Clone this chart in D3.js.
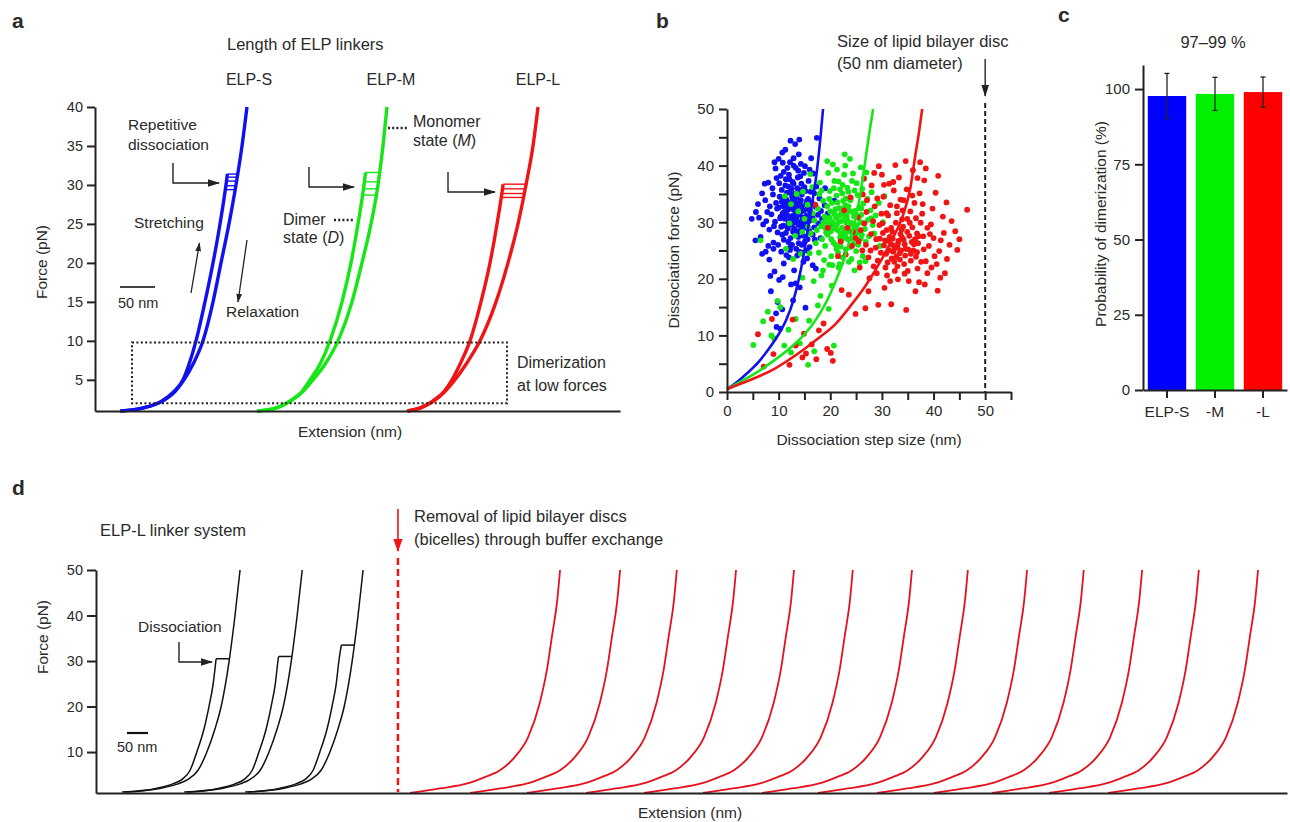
<!DOCTYPE html>
<html><head><meta charset="utf-8">
<script src="https://cdn.jsdelivr.net/npm/d3@7"></script>
<style>body{margin:0;background:#fff}svg text{font-family:Arial,"Liberation Sans",sans-serif;fill:#2a2a2a}</style>
</head><body><svg id="c" width="1290" height="822"></svg>
<script>
// ---------- Panel a data ----------
const aLinkers = ["ELP-S","ELP-M","ELP-L"];
const aYTicks = [5,10,15,20,25,30,35,40];
const aForceDimer = [1,1.4,2.3,3.5,5,7,10,15,20,25,30,32];
const aForceMono  = [1,1.4,2.3,3.5,5,7,10,15,20,25,30,35,40];
const aDimerExtS = [35.7,68.6,95.7,112.9,125.7,134.3,144.3,157.1,168.6,178.6,187.1,190];
const aDimerExtM = [231.4,258.6,278.6,295.7,307.1,321.4,335.7,352.9,365.7,375.7,384.3,387.1];
const aDimerExtL = [445.7,464.3,482.9,498.6,510,521.4,535.7,551.4,564.3,574.3,582.9,585.7];
const aMonoExtS = [37.1,70,97.1,114.3,127.1,140,154.3,168.6,180,191.4,201.4,210,217.1];
const aMonoExtM = [232.9,260,280,297.1,311.4,328.6,347.1,367.1,381.4,394.3,404.3,411.4,417.1];
const aMonoExtL = [447.1,465.7,484.3,500,514.3,530,550,572.9,590,604.3,615.7,625.7,632.9];
const aStepsS = [29.4,29.9,30.5,31.0,31.4];
const aStepsM = [28.7,29.5,30.4,31.6];
const aStepsL = [28.4,28.9,29.5,30.1];

// ---------- Panel b data ----------
const bXTicks = [0,5,10,15,20,25,30,35,40,45,50,55];
const bYTicks = [0,5,10,15,20,25,30,35,40,45,50];
const bFitS_x = [0,2,4,6,8,10,11.5,12.8,13.8,14.8,15.7,16.6,17.4,18.1,18.6];
const bFitS_f = [0.5,1.8,3.4,5.2,7.5,10.2,12.8,16,19.5,24,29,34,39,45,50];
const bFitM_x = [0,3,6,9,12,15,17,19,21,22.5,23.8,25,26,26.8,27.6,28.3];
const bFitM_f = [0.5,2,3.6,5.5,7.6,10.2,12.5,15.5,19.5,23,27,31,36,41,46,50];
const bFitL_x = [0,3,6,9,12,15,18,21,24,27,30,32,34,35.5,36.5,37.2,37.8];
const bFitL_f = [0.5,1.6,2.7,4,5.7,7.6,9.7,12,15.3,19,23.5,27,31,36,42,46,50];
const bDisc = 50;
const bPtsS = [[13.2,31.5],[12.1,30.2],[14.5,32.8],[11.3,33.1],[15.2,29.7],[13.8,28.4],[12.6,34.6],[10.4,31.0],[16.1,31.9],[14.0,35.7],
[11.8,28.9],[13.5,30.9],[15.7,34.1],[12.9,36.8],[10.9,29.4],[14.8,27.6],[9.7,32.4],[16.8,30.4],[13.1,33.7],[11.6,35.2],
[15.4,31.1],[12.3,27.2],[14.2,29.8],[10.2,34.5],[17.2,32.7],[13.7,37.9],[11.1,31.8],[15.9,28.5],[12.8,32.3],[14.6,30.5],
[9.3,30.1],[16.4,33.5],[12.0,38.4],[13.9,26.3],[11.5,32.9],[15.0,36.2],[10.7,27.8],[14.3,33.9],[12.4,29.6],[16.9,29.1],
[8.6,31.4],[13.3,39.6],[11.9,26.5],[17.6,31.3],[14.9,38.7],[10.1,36.9],[12.7,31.1],[15.6,27.0],[13.6,32.1],[11.2,30.6],
[9.8,28.2],[16.2,35.4],[12.2,40.6],[14.1,31.4],[10.6,33.6],[15.3,33.2],[13.0,28.9],[11.4,37.6],[17.9,34.2],[14.7,29.2],
[8.9,34.9],[12.5,35.9],[16.6,27.8],[13.4,30.0],[10.3,30.7],[15.8,37.3],[11.7,29.1],[14.4,36.8],[12.9,41.3],[9.6,37.8],
[7.8,31.8],[18.4,30.6],[13.9,42.0],[10.8,40.5],[16.0,25.6],[12.2,25.1],[14.6,24.6],[8.2,28.7],[18.9,33.0],[11.0,38.9],
[15.1,39.9],[9.0,26.4],[17.3,36.3],[13.2,43.8],[10.0,41.2],[19.5,31.5],[12.0,23.8],[15.5,23.6],[7.4,33.9],[16.7,38.6],
[14.0,44.6],[17.4,44.9],[6.2,30.8],[7.0,29.6],[20.2,29.0],[9.4,39.5],[11.3,42.8],[16.3,41.3],[13.6,24.1],[18.1,27.2],
[6.5,27.4],[8.0,37.0],[19.0,36.0],[20.8,33.8],[12.6,26.0],[10.5,24.8],[14.3,40.3],[15.9,30.2],[13.0,35.0],[11.5,34.0],
[12.4,32.6],[13.7,33.0],[14.2,31.9],[12.9,29.9],[11.8,32.2],[13.5,34.3],[14.9,32.0],[12.2,31.0],[15.6,32.5],[10.9,32.8],
[13.1,30.4],[14.5,34.9],[11.4,28.1],[16.5,30.9],[12.7,37.1],[10.5,29.2],[15.2,35.5],[13.8,27.4],[11.9,36.3],[14.0,30.0],
[12.0,33.5],[13.4,31.8],[14.7,30.8],[11.6,31.3],[12.8,28.3],[14.1,33.4],[13.0,32.8],[15.0,30.3],[11.1,34.2],[12.5,30.8],
[13.9,29.5],[10.8,31.6],[14.4,28.6],[12.2,35.3],[13.6,36.0],[15.5,33.8],[11.9,29.8],[10.0,32.6],[14.8,35.9],[12.7,33.9],
[9.5,33.4],[13.3,27.9],[16.0,32.2],[11.3,36.5],[12.1,37.6],[14.2,38.1],[10.6,35.7],[13.8,39.1],[15.4,29.0],[9.1,29.3],
[8.3,32.8],[11.7,39.6],[12.9,40.0],[10.4,38.2],[7.6,30.2],[16.9,35.1],[17.7,29.8],[8.8,36.0],[15.1,26.6],[11.0,26.9],
[5.6,31.8],[4.8,30.6],[6.8,35.1],[9.9,26.0],[13.4,25.3],[17.0,26.9],[18.2,32.0],[14.5,26.0],[10.7,42.3],[12.3,44.4],
[7.3,36.8],[9.2,40.6],[16.0,39.3],[8.0,25.8],[6.0,33.2],[5.5,26.8],[6.8,24.4],[10.8,20.3],[8.2,23.4],[14.0,24.8],
[9.2,21.3],[10.1,19.8],[11.5,24.2],[8.5,17.8],[12.4,19.0],[13.0,21.5],[9.8,15.9],[10.7,14.6],[14.1,18.5],[13.3,19.2],
[10.3,11.2],[9.6,11.5],[15.2,14.9],[11.0,22.7],[12.2,25.5],[8.4,20.5],[14.8,23.0],[16.6,22.4],[17.2,21.8],[9.5,13.9],
[12.8,16.2],[7.5,24.8],[9.0,25.3],[15.5,25.0]];
const bPtsM = [[22.1,30.2],[20.8,31.5],[23.6,29.1],[21.4,28.6],[24.3,31.8],[22.9,33.0],[19.7,29.7],[25.1,29.4],[21.9,27.3],[23.2,31.1],
[20.3,33.4],[24.8,27.9],[22.6,28.1],[18.9,31.0],[26.0,31.3],[21.1,30.8],[23.9,33.9],[19.5,27.8],[25.6,32.6],[22.3,35.1],
[20.6,26.4],[24.0,29.9],[21.7,32.5],[26.7,28.8],[18.2,29.3],[23.4,27.0],[22.8,30.6],[20.0,31.9],[25.3,34.8],[21.2,34.7],
[17.6,32.4],[24.5,26.2],[22.4,36.6],[19.2,28.2],[27.3,30.4],[23.1,28.4],[20.9,29.1],[25.9,27.1],[21.6,37.2],[18.6,33.8],
[24.7,35.6],[22.0,25.7],[26.4,33.3],[19.9,35.5],[23.7,32.0],[16.9,30.3],[27.8,32.1],[21.0,26.0],[24.2,37.3],[20.4,30.0],
[22.5,33.8],[25.5,30.8],[18.4,27.0],[23.0,25.2],[26.9,26.5],[19.4,32.8],[22.7,38.4],[28.2,29.5],[17.9,35.0],[24.9,28.6],
[21.5,24.6],[20.7,36.0],[26.2,35.9],[16.2,28.0],[23.5,35.4],[28.8,31.2],[19.0,25.8],[25.0,24.9],[15.6,33.1],[22.2,31.7],
[29.4,33.4],[17.2,26.3],[24.4,38.6],[18.0,37.0],[27.5,27.5],[20.2,24.0],[22.9,40.0],[15.0,30.6],[26.6,37.7],[21.8,22.6],
[29.0,27.0],[13.8,31.9],[16.5,36.2],[25.7,22.9],[19.6,38.7],[12.4,33.2],[14.7,35.4],[23.8,41.2],[18.8,23.3],[28.0,35.3],
[12.1,29.8],[11.2,34.6],[13.2,27.6],[26.3,24.0],[30.2,30.0],[24.1,23.5],[16.0,24.5],[20.5,40.2],[27.0,38.8],[22.4,23.8],
[21.3,29.6],[23.3,30.3],[22.0,32.4],[24.6,31.0],[20.1,28.4],[23.0,34.2],[21.8,31.2],[25.2,28.2],[19.3,30.6],[22.6,27.2],
[22.3,29.0],[21.6,30.1],[23.8,28.3],[24.6,29.6],[20.5,28.9],[22.9,27.6],[23.5,32.8],[21.0,32.3],[25.8,30.0],[19.9,30.8],
[22.1,26.6],[24.2,27.2],[20.2,27.0],[23.1,29.9],[21.4,33.5],[25.4,26.0],[26.5,29.8],[18.7,30.0],[22.7,31.4],[24.0,34.3],
[19.8,34.1],[21.2,25.3],[26.0,32.4],[17.4,28.6],[23.9,25.6],[20.8,37.3],[25.1,36.9],[18.3,35.6],[27.2,34.1],[16.6,31.6],
[22.0,28.0],[24.8,32.0],[19.0,29.0],[21.9,35.8],[23.3,36.1],[26.1,27.8],[27.9,30.7],[15.7,29.2],[20.4,22.4],[23.6,23.0],
[17.8,24.6],[14.6,28.3],[13.5,35.0],[28.5,28.0],[26.8,23.1],[24.7,21.5],[21.3,39.3],[25.9,39.7],[19.4,40.8],[22.8,42.0],
[16.1,38.5],[29.6,25.8],[18.3,20.6],[14.3,24.4],[30.5,34.6],
[5.1,8.3],[7.0,12.5],[8.6,10.0],[9.8,16.1],[10.3,15.0],[11.9,11.0],[12.4,7.0],[14.1,8.6],[15.7,4.8],[16.9,7.2],
[17.6,15.3],[18.1,17.0],[19.7,14.7],[20.3,18.8],[20.7,8.2],[13.3,12.9],[11.1,8.2],[15.9,12.6],[21.6,22.0],[9.1,9.5],
[14.6,20.2],[18.6,21.5],[16.8,19.6],[12.8,23.5],[7.9,14.2],[19.8,22.5],[6.5,26.8],[11.4,25.3]];
const bPtsL = [[33.1,26.2],[31.5,27.4],[34.6,25.3],[32.2,24.8],[35.3,27.6],[30.4,25.9],[33.8,28.7],[36.1,25.0],[31.9,23.6],[34.2,26.9],
[29.6,27.1],[35.9,29.1],[32.7,29.9],[37.0,26.3],[30.9,28.6],[33.5,23.4],[28.8,25.5],[36.6,23.9],[32.0,26.0],[34.9,30.6],
[30.1,29.8],[38.0,27.5],[33.0,22.2],[29.2,23.2],[35.6,24.4],[31.2,31.2],[37.5,29.9],[27.9,27.9],[34.0,32.1],[32.5,25.4],
[36.9,21.8],[30.7,22.0],[39.1,25.8],[28.3,30.2],[33.9,27.3],[35.0,21.4],[31.6,33.0],[38.5,23.1],[26.9,26.0],[32.9,31.6],
[37.8,31.5],[29.9,31.5],[34.4,20.9],[40.0,27.2],[27.4,23.8],[36.3,33.4],[31.0,20.6],[39.5,29.6],[25.9,28.6],[33.6,34.0],
[38.8,21.0],[28.6,32.8],[35.5,31.9],[41.1,24.9],[30.3,34.5],[36.8,28.0],[26.2,25.0],[32.3,35.6],[40.6,22.6],[29.0,21.0],
[34.8,35.8],[24.9,27.2],[37.3,35.1],[42.0,28.1],[31.4,36.8],[27.1,33.9],[39.8,32.4],[25.3,30.9],[35.2,19.6],[33.3,37.9],
[28.0,36.5],[41.8,31.0],[24.2,25.8],[30.0,38.4],[38.2,37.4],[23.3,29.0],[43.1,26.0],[36.0,39.2],[26.5,37.7],[44.2,28.4],
[22.7,32.1],[32.6,40.1],[40.4,35.2],[23.9,34.4],[42.5,33.5],[29.4,39.9],[46.5,32.2],[37.4,40.6],[22.0,26.6],[41.3,20.2],
[33.2,26.7],[34.5,24.1],[32.0,28.3],[35.8,26.5],[30.8,24.4],[33.7,25.0],[31.3,26.7],[36.4,27.0],[34.1,29.2],[32.4,23.0],
[38.3,19.0],[36.5,17.8],[34.7,14.5],[40.8,17.9],[42.2,21.0],[30.5,18.4],[31.8,15.5],[37.2,19.4],
[33.0,25.5],[32.1,27.1],[34.4,26.1],[35.1,25.2],[31.4,25.0],[33.6,27.9],[32.8,23.9],[36.2,26.1],[30.6,26.8],[34.9,28.3],
[31.8,29.0],[33.4,24.5],[29.8,24.6],[35.6,23.2],[32.5,21.4],[37.1,27.5],[30.2,28.1],[34.3,22.6],[36.8,24.7],[28.9,27.0],
[33.9,30.5],[31.1,22.9],[38.1,25.2],[29.5,29.5],[35.4,29.9],[32.9,32.8],[27.8,25.0],[37.6,23.0],[30.9,31.6],[36.6,30.7],
[39.3,27.9],[26.6,29.8],[34.2,33.9],[31.6,19.6],[38.8,29.0],[28.4,22.2],[40.2,24.0],[33.1,19.9],[25.5,26.6],[37.9,33.2],
[29.1,34.2],[35.9,34.7],[41.4,26.8],[27.0,31.8],[39.6,22.0],[32.2,37.1],[24.4,28.3],[36.9,37.8],[30.4,36.6],[43.5,30.2],
[26.3,34.9],[42.6,23.5],[28.5,38.7],[38.5,39.5],[44.6,25.1],[23.0,24.3],[34.6,40.8],[40.9,38.2],[27.6,20.1],[45.0,27.0],
[6.0,10.2],[7.1,4.5],[9.0,6.7],[8.7,12.9],[12.1,4.8],[13.3,8.2],[14.6,6.1],[15.3,6.8],[16.4,8.4],[17.3,5.8],
[17.8,10.9],[18.7,12.1],[19.4,7.6],[20.5,5.5],[20.1,6.9],[22.2,18.0],[23.6,17.2],[24.9,13.8],[26.8,14.8],[27.4,17.8],
[29.3,15.4],[25.7,22.0],[21.5,24.0],[19.5,29.0],[17.1,33.1],[12.7,12.8],[14.9,10.3]];

// ---------- Panel c data ----------
const cCategories = ["ELP-S","-M","-L"];
const cValues = [97.7,98.4,99.0];
const cErrors = [7.5,5.5,5.0];
const cYTicks = [0,25,50,75,100];

// ---------- Panel d data ----------
const dYTicks = [10,20,30,40,50];
const dBlackMonoF   = [1.2,2,3,4,6,10,15,20,30,40,50];
const dBlackMonoExt = [0,83,126,150,174,195,214,229,248,262,274];
const dBlackDimerF   = [1.2,2,3,4,6,10,15,20,25,30.5,34];
const dBlackDimerExt = [-7,74,114,136,155,171,188,200,210,217,223];
const dBlackOffsets = [69,217,362];
const dBlackSteps = [30.5,31,33.5];
const dRedF   = [1.0,2,3.1,4.5,6,9,13.3,20.9,28.2,35.6,43.1,50];
const dRedExt = [0,71,136,178,214,250,281,309,326,338,350,357];
const dRedOffsets = [748,891,1026,1167,1305,1445,1586,1719,1860,1995,2134,2269,2410];
const dRemoval = 719;

// ---------- colors ----------
const BLUE="#1010f0", GREEN="#16e616", RED="#f01414";
const C3=[BLUE,GREEN,RED];
const INK="#222";
const FONT="Arial, 'Liberation Sans', sans-serif";

const svg=d3.select("#c");
const defs=svg.append("defs");
function marker(id,color,w,h){
  defs.append("marker").attr("id",id).attr("viewBox","0 0 12 12").attr("refX",11).attr("refY",6)
    .attr("markerWidth",w).attr("markerHeight",h).attr("markerUnits","userSpaceOnUse").attr("orient","auto")
    .attr("preserveAspectRatio","none")
    .append("path").attr("d","M0,1 L12,6 L0,11 z").attr("fill",color);
}
marker("ah",INK,12,9); marker("ahs",INK,9,7); marker("ahr",RED,13,11);

function styleAxis(g,fs){
  g.attr("font-family",FONT).attr("font-size",fs);
  g.select(".domain").attr("stroke",INK).attr("stroke-width",2);
  g.selectAll(".tick line").attr("stroke",INK).attr("stroke-width",2);
  g.selectAll(".tick text").attr("fill","#333");
}
function txt(x,y,s,fs,opt={}){
  const t=svg.append("text").attr("x",x).attr("y",y).attr("font-size",fs).text(s);
  if(opt.anchor) t.attr("text-anchor",opt.anchor);
  if(opt.bold) t.attr("font-weight","bold");
  if(opt.rot) t.attr("transform",`rotate(-90,${x},${y})`);
  return t;
}
function txtItal(x,y,pre,it,post,fs){
  const t=svg.append("text").attr("x",x).attr("y",y).attr("font-size",fs);
  t.append("tspan").text(pre); t.append("tspan").attr("font-style","italic").text(it); t.append("tspan").text(post);
}
const lineM=(xs,ys)=>d3.line().x(p=>xs(p[0])).y(p=>ys(p[1])).curve(d3.curveMonotoneX);
function curvePts(F,E,off,maxF){
  let pts=F.map((f,i)=>[E[i]+off,f]);
  if(maxF!==undefined){
    const interp=d3.scaleLinear().domain(F).range(E);
    pts=pts.filter(p=>p[1]<maxF); pts.push([interp(maxF)+off,maxF]);
  }
  return pts;
}
function extAt(F,E,f){return d3.scaleLinear().domain(F).range(E)(f);}

// ================= Panel a =================
const xA=d3.scaleLinear().domain([0,750]).range([95,620]);
const yA=d3.scaleLinear().domain([1,40]).range([411,107]);
const gA=svg.append("g");
const dimers=[aDimerExtS,aDimerExtM,aDimerExtL], monos=[aMonoExtS,aMonoExtM,aMonoExtL], steps=[aStepsS,aStepsM,aStepsL];
aLinkers.forEach((n,i)=>{
  const maxS=d3.max(steps[i]);
  gA.append("path").datum(curvePts(aForceDimer,dimers[i],0,maxS)).attr("d",lineM(xA,yA))
    .attr("fill","none").attr("stroke",C3[i]).attr("stroke-width",3.4).attr("stroke-linejoin","round");
  gA.append("path").datum(curvePts(aForceMono,monos[i],0)).attr("d",lineM(xA,yA))
    .attr("fill","none").attr("stroke",C3[i]).attr("stroke-width",3.4).attr("stroke-linejoin","round");
  gA.selectAll(null).data(steps[i]).join("line")
    .attr("x1",f=>xA(extAt(aForceDimer,dimers[i],f))).attr("x2",f=>xA(extAt(aForceMono,monos[i],f)))
    .attr("y1",f=>yA(f)).attr("y2",f=>yA(f)).attr("stroke",C3[i]).attr("stroke-width",1.4);
});
const axAy=svg.append("g").attr("transform","translate(95,0)").call(d3.axisLeft(yA).tickValues(aYTicks).tickSize(8).tickSizeOuter(0).tickPadding(4));
styleAxis(axAy,14.5);
const axAx=svg.append("g").attr("transform","translate(0,411)").call(d3.axisBottom(xA).tickValues([]).tickSizeOuter(0));
styleAxis(axAx,14);
svg.append("rect").attr("x",132).attr("y",yA(9.8)).attr("width",375).attr("height",yA(2)-yA(9.8))
  .attr("fill","none").attr("stroke",INK).attr("stroke-width",2).attr("stroke-dasharray","2,2.4");
txt(12,28,"a",21,{bold:true});
txt(227,50,"Length of ELP linkers",16.5);
[249,391,538].forEach((cx,i)=>txt(cx,85,aLinkers[i],16,{anchor:"middle"}));
txt(128,130,"Repetitive",15.5); txt(128,150,"dissociation",15.5);
txt(413,127,"Monomer",16); txtItal(413,146,"state (","M",")",16);
txt(283,225,"Dimer",16); txtItal(283,243,"state (","D",")",16);
svg.append("line").attr("x1",388).attr("x2",408).attr("y1",128).attr("y2",128).attr("stroke",INK).attr("stroke-width",2.5).attr("stroke-dasharray","2,2.2");
svg.append("line").attr("x1",334).attr("x2",355).attr("y1",220).attr("y2",220).attr("stroke",INK).attr("stroke-width",2.5).attr("stroke-dasharray","2,2.2");
function bent(x0,y0,y1,x1,mk){svg.append("path").attr("d",`M${x0},${y0} V${y1} H${x1}`).attr("fill","none").attr("stroke",INK).attr("stroke-width",1.4).attr("marker-end",`url(#${mk})`);}
bent(173,163,183,219,"ah"); bent(309,167,187,354,"ah"); bent(448,172,192,495,"ah");
txt(134,228,"Stretching",15.5); txt(226,317,"Relaxation",15.5);
svg.append("line").attr("x1",191).attr("y1",293).attr("x2",199.5).attr("y2",243).attr("stroke",INK).attr("stroke-width",1.3).attr("marker-end","url(#ahs)");
svg.append("line").attr("x1",247).attr("y1",240).attr("x2",238).attr("y2",302).attr("stroke",INK).attr("stroke-width",1.3).attr("marker-end","url(#ahs)");
svg.append("line").attr("x1",120).attr("x2",155).attr("y1",287).attr("y2",287).attr("stroke","#444").attr("stroke-width",2);
txt(118,308,"50 nm",14.5);
txt(517,368,"Dimerization",16); txt(517,391,"at low forces",16);
txt(47,262,"Force (pN)",15.5,{anchor:"middle",rot:true});
txt(350,437,"Extension (nm)",15.5,{anchor:"middle"});

// ================= Panel b =================
const xB=d3.scaleLinear().domain([0,55]).range([727,1011]);
const yB=d3.scaleLinear().domain([0,50]).range([392,109]);
[[bPtsS,BLUE],[bPtsM,GREEN],[bPtsL,RED]].forEach(([pts,c])=>{
  svg.append("g").selectAll("circle").data(pts).join("circle")
    .attr("cx",d=>xB(d[0])).attr("cy",d=>yB(d[1])).attr("r",2.9).attr("fill",c);
});
[[bFitS_x,bFitS_f,BLUE],[bFitM_x,bFitM_f,GREEN],[bFitL_x,bFitL_f,RED]].forEach(([xs,fs,c])=>{
  svg.append("path").datum(xs.map((v,i)=>[v,fs[i]])).attr("d",lineM(xB,yB)).attr("fill","none").attr("stroke",c).attr("stroke-width",2.6);
});
svg.append("line").attr("x1",xB(bDisc)).attr("x2",xB(bDisc)).attr("y1",103).attr("y2",392).attr("stroke",INK).attr("stroke-width",2).attr("stroke-dasharray","5,3");
svg.append("line").attr("x1",xB(bDisc)).attr("x2",xB(bDisc)).attr("y1",59).attr("y2",96).attr("stroke",INK).attr("stroke-width",1.4).attr("marker-end","url(#ah)");
const axBy=svg.append("g").attr("transform","translate(727,0)").call(d3.axisLeft(yB).tickValues(bYTicks).tickSize(8).tickSizeOuter(0).tickPadding(5).tickFormat(d=>d%10===0?d:""));
styleAxis(axBy,15);
const axBx=svg.append("g").attr("transform","translate(0,392)").call(d3.axisBottom(xB).tickValues(bXTicks).tickSize(8).tickSizeOuter(0).tickPadding(5).tickFormat(d=>d%10===0?d:""));
styleAxis(axBx,15);
txt(656,28,"b",21,{bold:true});
txt(837,47,"Size of lipid bilayer disc",16.5); txt(837,69,"(50 nm diameter)",16.5);
txt(869,445,"Dissociation step size (nm)",15.5,{anchor:"middle"});
txt(679,250,"Dissociation force (pN)",15.5,{anchor:"middle",rot:true});

// ================= Panel c =================
const xC=d3.scaleBand().domain(cCategories).range([1143,1287]).paddingInner(0.2).paddingOuter(0.1);
const yC=d3.scaleLinear().domain([0,108]).range([390,65]);
svg.append("g").selectAll("rect").data(cValues).join("rect")
  .attr("x",(d,i)=>xC(cCategories[i])).attr("width",xC.bandwidth()).attr("y",d=>yC(d)).attr("height",d=>yC(0)-yC(d)).attr("fill",(d,i)=>["#0000ff","#00f000","#ff0000"][i]);
svg.append("g").selectAll("g").data(cValues).join("g").each(function(d,i){
  const cx=xC(cCategories[i])+xC.bandwidth()/2, g=d3.select(this);
  g.append("line").attr("x1",cx).attr("x2",cx).attr("y1",yC(d-cErrors[i])).attr("y2",yC(d+cErrors[i])).attr("stroke",INK).attr("stroke-width",1.3);
  [d-cErrors[i],d+cErrors[i]].forEach(v=>g.append("line").attr("x1",cx-2.5).attr("x2",cx+2.5).attr("y1",yC(v)).attr("y2",yC(v)).attr("stroke",INK).attr("stroke-width",1.3));
});
const axCy=svg.append("g").attr("transform","translate(1143,0)").call(d3.axisLeft(yC).tickValues(cYTicks).tickSize(8).tickSizeOuter(0).tickPadding(5));
styleAxis(axCy,15);
const axCx=svg.append("g").attr("transform","translate(0,390)").call(d3.axisBottom(xC).tickSize(8).tickSizeOuter(0).tickPadding(8));
styleAxis(axCx,15.5);
txt(1058,22,"c",21,{bold:true});
txt(1213,48,"97–99 %",16.5,{anchor:"middle"});
txt(1106,224,"Probability of dimerization (%)",15.5,{anchor:"middle",rot:true});

// ================= Panel d =================
const xD=d3.scaleLinear().domain([0,2836]).range([96,1287]);
const yD=d3.scaleLinear().domain([1,50]).range([793,570]);
dBlackOffsets.forEach((o,i)=>{
  const s=dBlackSteps[i];
  svg.append("path").datum(curvePts(dBlackMonoF,dBlackMonoExt,o)).attr("d",lineM(xD,yD)).attr("fill","none").attr("stroke","#111").attr("stroke-width",1.5);
  svg.append("path").datum(curvePts(dBlackDimerF,dBlackDimerExt,o,s)).attr("d",lineM(xD,yD)).attr("fill","none").attr("stroke","#111").attr("stroke-width",1.5);
  svg.append("line").attr("x1",xD(extAt(dBlackDimerF,dBlackDimerExt,s)+o)).attr("x2",xD(extAt(dBlackMonoF,dBlackMonoExt,s)+o))
    .attr("y1",yD(s)).attr("y2",yD(s)).attr("stroke","#111").attr("stroke-width",1.5);
});
dRedOffsets.forEach(o=>{
  svg.append("path").datum(curvePts(dRedF,dRedExt,o)).attr("d",lineM(xD,yD)).attr("fill","none").attr("stroke","#e3121c").attr("stroke-width",1.8);
});
const axDy=svg.append("g").attr("transform","translate(96,0)").call(d3.axisLeft(yD).tickValues(dYTicks).tickSize(9).tickSizeOuter(0).tickPadding(4));
styleAxis(axDy,14.5);
const axDx=svg.append("g").attr("transform","translate(0,793)").call(d3.axisBottom(xD).tickValues([]).tickSizeOuter(0));
styleAxis(axDx,14);
svg.append("line").attr("x1",xD(dRemoval)).attr("x2",xD(dRemoval)).attr("y1",558).attr("y2",792).attr("stroke",RED).attr("stroke-width",2.5).attr("stroke-dasharray","7,4");
svg.append("line").attr("x1",xD(dRemoval)).attr("x2",xD(dRemoval)).attr("y1",509).attr("y2",551).attr("stroke",RED).attr("stroke-width",1.6).attr("marker-end","url(#ahr)");
txt(12,495,"d",21,{bold:true});
txt(100,536,"ELP-L linker system",16.5);
txt(414,522,"Removal of lipid bilayer discs",16.5); txt(414,545,"(bicelles) through buffer exchange",16.5);
txt(138,632,"Dissociation",15.5);
bent(179,642,662,212,"ah");
svg.append("line").attr("x1",127).attr("x2",148).attr("y1",733).attr("y2",733).attr("stroke","#111").attr("stroke-width",2.2);
txt(117,752,"50 nm",14.5);
txt(48,637,"Force (pN)",15.5,{anchor:"middle",rot:true});
txt(690,818,"Extension (nm)",15.5,{anchor:"middle"});
</script></body></html>
